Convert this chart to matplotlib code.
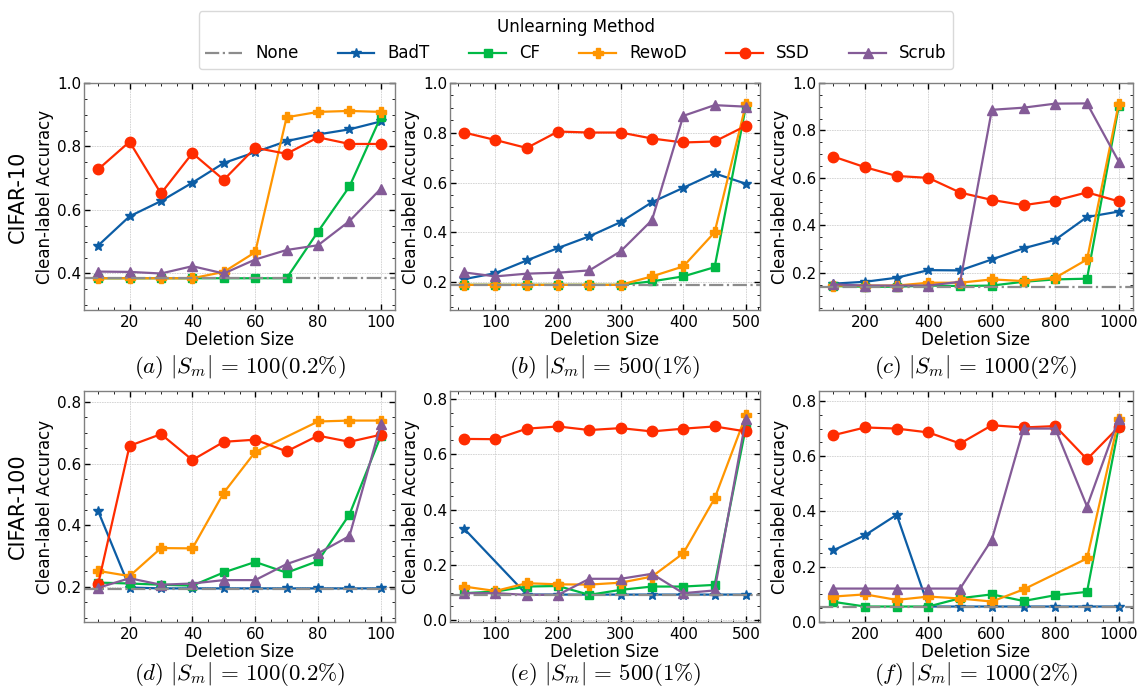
import matplotlib.pyplot as plt
from matplotlib.ticker import MultipleLocator, AutoMinorLocator
from matplotlib.lines import Line2D
import numpy as np

plt.rcParams['font.family'] = ['DejaVu Sans']
plt.rcParams['mathtext.fontset'] = 'cm'

methods = ["BadT", "CF", "RewoD", "SSD", "Scrub"]
colors = ["#0C5DA5", "#00B945", "#FF9500", "#FF2C00", "#845B97"]
markers = ["*", "s", "P", "o", "^"]
msizes = [7.5, 6, 7, 7.5, 6.5]
row_names = ["CIFAR-10", "CIFAR-100"]

x_100 = [10, 20, 30, 40, 50, 60, 70, 80, 90, 100]
x_500 = [50, 100, 150, 200, 250, 300, 350, 400, 450, 500]
x_1000 = [100, 200, 300, 400, 500, 600, 700, 800, 900, 1000]

# (a) CIFAR-10, |S_m| = 100
a_none = 0.385
a_badt = [0.488, 0.580, 0.628, 0.686, 0.748, 0.782, 0.817, 0.838, 0.854, 0.879]
a_cf = [0.385, 0.385, 0.385, 0.385, 0.385, 0.385, 0.385, 0.532, 0.674, 0.894]
a_rewod = [0.385, 0.385, 0.385, 0.385, 0.405, 0.467, 0.892, 0.909, 0.912, 0.909]
a_ssd = [0.728, 0.815, 0.652, 0.779, 0.695, 0.796, 0.777, 0.829, 0.808, 0.808]
a_scrub = [0.406, 0.405, 0.400, 0.423, 0.400, 0.444, 0.474, 0.489, 0.565, 0.667]

# (b) CIFAR-10, |S_m| = 500
b_none = 0.189
b_badt = [0.212, 0.236, 0.287, 0.337, 0.384, 0.441, 0.521, 0.579, 0.637, 0.595]
b_cf = [0.189, 0.189, 0.189, 0.189, 0.189, 0.189, 0.203, 0.223, 0.260, 0.906]
b_rewod = [0.189, 0.189, 0.189, 0.189, 0.189, 0.189, 0.223, 0.263, 0.400, 0.915]
b_ssd = [0.801, 0.771, 0.739, 0.805, 0.801, 0.801, 0.777, 0.761, 0.765, 0.828]
b_scrub = [0.239, 0.223, 0.234, 0.238, 0.247, 0.324, 0.449, 0.868, 0.911, 0.905]

# (c) CIFAR-10, |S_m| = 1000
c_none = 0.142
c_badt = [0.154, 0.162, 0.179, 0.211, 0.210, 0.256, 0.303, 0.339, 0.435, 0.458]
c_cf = [0.144, 0.141, 0.141, 0.146, 0.144, 0.146, 0.162, 0.172, 0.175, 0.901]
c_rewod = [0.146, 0.146, 0.146, 0.158, 0.158, 0.172, 0.165, 0.179, 0.256, 0.913]
c_ssd = [0.690, 0.645, 0.608, 0.600, 0.538, 0.507, 0.485, 0.504, 0.539, 0.501]
c_scrub = [0.151, 0.146, 0.146, 0.146, 0.162, 0.887, 0.896, 0.913, 0.914, 0.669]

# (d) CIFAR-100, |S_m| = 100
d_none = 0.194
d_badt = [0.446, 0.198, 0.195, 0.195, 0.195, 0.195, 0.195, 0.195, 0.195, 0.195]
d_cf = [0.214, 0.211, 0.207, 0.204, 0.247, 0.281, 0.246, 0.284, 0.435, 0.690]
d_rewod = [0.252, 0.235, 0.326, 0.325, 0.506, 0.638, np.nan, 0.737, 0.740, 0.740]
d_ssd = [0.209, 0.658, 0.696, 0.612, 0.671, 0.678, 0.640, 0.691, 0.671, 0.694]
d_scrub = [0.197, 0.228, 0.207, 0.211, 0.222, 0.222, 0.274, 0.309, 0.365, 0.728]

# (e) CIFAR-100, |S_m| = 500
e_none = 0.093
e_badt = [0.331, np.nan, 0.093, 0.093, 0.093, 0.093, 0.093, 0.093, 0.093, 0.093]
e_cf = [0.098, 0.104, 0.122, 0.124, 0.092, 0.110, 0.122, 0.122, 0.128, 0.698]
e_rewod = [0.122, 0.106, 0.134, 0.130, 0.129, 0.136, 0.158, 0.242, 0.440, 0.740]
e_ssd = [0.655, 0.654, 0.692, 0.700, 0.687, 0.694, 0.682, 0.692, 0.700, 0.682]
e_scrub = [0.098, 0.098, 0.092, 0.092, 0.150, 0.150, 0.168, 0.098, 0.108, 0.728]

# (f) CIFAR-100, |S_m| = 1000
f_none = 0.056
f_badt = [0.259, 0.314, 0.388, 0.056, 0.056, 0.056, 0.056, 0.056, 0.056, 0.056]
f_cf = [0.073, 0.056, 0.056, 0.056, 0.086, 0.100, 0.076, 0.097, 0.109, 0.706]
f_rewod = [0.092, 0.100, 0.080, 0.092, 0.085, 0.074, 0.118, np.nan, 0.230, 0.733]
f_ssd = [0.676, 0.704, 0.700, 0.686, 0.646, 0.712, 0.704, 0.709, 0.589, 0.706]
f_scrub = [0.121, 0.121, 0.121, 0.121, 0.121, 0.298, 0.700, 0.700, 0.418, 0.736]

captions = [r"$(a)\ |S_m|\,=\,100(0.2\%)$", r"$(b)\ |S_m|\,=\,500(1\%)$",
            r"$(c)\ |S_m|\,=\,1000(2\%)$", r"$(d)\ |S_m|\,=\,100(0.2\%)$",
            r"$(e)\ |S_m|\,=\,500(1\%)$", r"$(f)\ |S_m|\,=\,1000(2\%)$"]

panels = [
    (x_100, a_none, [a_badt, a_cf, a_rewod, a_ssd, a_scrub], (0.285, 1.0), 20),
    (x_500, b_none, [b_badt, b_cf, b_rewod, b_ssd, b_scrub], (0.088, 1.0), 100),
    (x_1000, c_none, [c_badt, c_cf, c_rewod, c_ssd, c_scrub], (0.043, 1.0), 200),
    (x_100, d_none, [d_badt, d_cf, d_rewod, d_ssd, d_scrub], (0.086, 0.836), 20),
    (x_500, e_none, [e_badt, e_cf, e_rewod, e_ssd, e_scrub], (-0.006, 0.828), 100),
    (x_1000, f_none, [f_badt, f_cf, f_rewod, f_ssd, f_scrub], (0.0, 0.836), 200),
]

W, H = 1139, 691
fig = plt.figure(figsize=(W / 100, H / 100), dpi=100)

cols = [(84, 395), (450, 760), (819, 1133)]
rows = [(83, 310), (391, 622)]
cap_offset = [57, 52]

for i, (xs, none_val, series, ylim, xstep) in enumerate(panels):
    r, c = divmod(i, 3)
    l, rt = cols[c]
    t, b = rows[r]
    ax = fig.add_axes([l / W, 1 - b / H, (rt - l) / W, (b - t) / H])
    xs = np.array(xs)
    for k, vals in enumerate(series):
        v = np.array(vals, dtype=float)
        m = ~np.isnan(v)
        ax.plot(xs[m], v[m], color=colors[k], marker=markers[k], ms=msizes[k],
                lw=1.6, zorder=2)
    ax.axhline(none_val, color="#8c8c8c", ls="-.", lw=1.6, zorder=2.5)
    ax.set_ylim(*ylim)
    ax.yaxis.set_major_locator(MultipleLocator(0.2))
    ax.xaxis.set_major_locator(MultipleLocator(xstep))
    ax.xaxis.set_minor_locator(AutoMinorLocator())
    ax.yaxis.set_minor_locator(AutoMinorLocator())
    ax.tick_params(which="both", direction="in", top=True, right=True, labelsize=11)
    ax.tick_params(which="major", length=4, width=1.0)
    ax.tick_params(which="minor", length=2, width=0.6)
    ax.tick_params(axis="y", pad=2)
    for s in ax.spines.values():
        s.set_color("#808080")
        s.set_linewidth(1.0)
    ax.grid(True, which="major", color="#d0d0d0", lw=0.6, ls=(0, (2, 1)))
    ax.set_xlabel("Deletion Size", fontsize=12, labelpad=1)
    ax.set_ylabel("Clean-label Accuracy", fontsize=12, labelpad=2)
    fig.text((l + rt) / 2 / W, 1 - (b + cap_offset[r]) / H, captions[i],
             fontsize=16.5, ha="center", va="center")
    if c == 0:
        fig.text(18 / W, 1 - (t + b) / 2 / H, row_names[r], fontsize=15,
                 rotation=90, ha="center", va="center")

handles = [Line2D([], [], color="#8c8c8c", ls="-.", lw=1.6)]
for k in range(5):
    handles.append(Line2D([], [], color=colors[k], marker=markers[k],
                          ms=msizes[k], lw=1.6))
fig.legend(handles, ["None"] + methods, loc="upper center",
           bbox_to_anchor=(576 / W, 1 - 3 / H), ncol=6, fontsize=12,
           title="Unlearning Method", title_fontsize=12, frameon=True,
           columnspacing=2.35, handlelength=2.2, edgecolor="#d0d0d0")

fig.savefig("out.png", dpi=100)
